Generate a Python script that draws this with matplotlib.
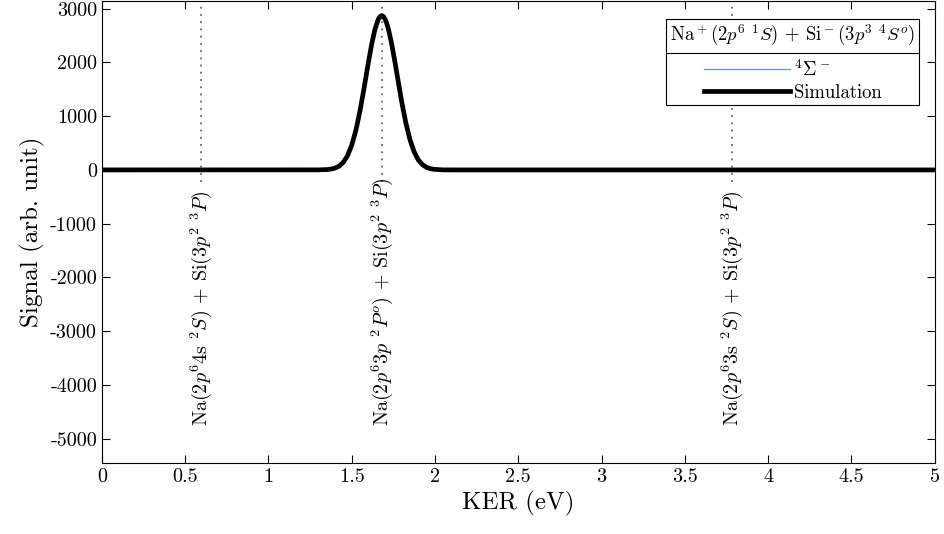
import matplotlib
matplotlib.use("Agg")
import matplotlib.pyplot as plt
from matplotlib.lines import Line2D

plt.rcParams['font.family'] = 'serif'
plt.rcParams['font.serif'] = ['cmr10', 'DejaVu Serif']
plt.rcParams['mathtext.fontset'] = 'cm'
plt.rcParams['axes.unicode_minus'] = False
plt.rcParams['axes.formatter.use_mathtext'] = True

# simulated KER spectrum
ker = [0, 1.3, 1.35, 1.375, 1.4, 1.425, 1.45, 1.475, 1.5, 1.525, 1.55, 1.575,
       1.6, 1.62, 1.64, 1.66, 1.67, 1.68, 1.69, 1.7, 1.71, 1.72, 1.74, 1.76,
       1.775, 1.8, 1.825, 1.85, 1.875, 1.9, 1.925, 1.95, 1.975, 2.0, 2.05,
       2.1, 5]
signal = [0, 1, 6, 15, 34, 72, 144, 266, 461, 737, 1103, 1538,
          1998, 2341, 2622, 2806, 2854, 2870, 2854, 2806, 2727, 2622, 2341, 1998,
          1722, 1270, 873, 559, 334, 185, 96, 46, 21, 9, 1,
          0, 0]

# asymptotic limits
limit_ker = [0.595, 1.683, 3.785]
limit_labels = [
    r'Na$(2p^6 4\mathrm{s}\ ^2S)$ + Si$(3p^2\ ^3P)$',
    r'Na$(2p^6 3p\ ^2P^o)$ + Si$(3p^2\ ^3P)$',
    r'Na$(2p^6 3\mathrm{s}\ ^2S)$ + Si$(3p^2\ ^3P)$',
]

xticks = [0, 0.5, 1, 1.5, 2, 2.5, 3, 3.5, 4, 4.5, 5]
xticklabels = ['0', '0.5', '1', '1.5', '2', '2.5', '3', '3.5', '4', '4.5', '5']
yticks = [-5000, -4000, -3000, -2000, -1000, 0, 1000, 2000, 3000]
yticklabels = ['-5000', '-4000', '-3000', '-2000', '-1000', '0', '1000', '2000', '3000']

fig = plt.figure(figsize=(9.44, 5.34), dpi=100)
ax = fig.add_axes([0.108, 0.133, 0.882, 0.865])

for xk, lab in zip(limit_ker, limit_labels):
    ax.axvline(xk, ymin=0.608, ymax=1, color='#666666', lw=1.3,
               linestyle=(0, (1, 3)), zorder=1)
    ax.text(xk, -4770, lab, rotation=90, ha='center', va='bottom',
            fontsize=14.5, zorder=2)

ax.plot(ker, signal, color='#4DA6E8', lw=1, label=r'$^4\Sigma^-$', zorder=3)
ax.plot(ker, signal, color='black', lw=3.4, label='Simulation', zorder=4)

ax.set_xlim(0, 5)
ax.set_ylim(-5450, 3140)
ax.set_xticks(xticks)
ax.set_xticklabels(xticklabels)
ax.set_yticks(yticks)
ax.set_yticklabels(yticklabels)
ax.tick_params(direction='in', top=True, right=True, length=6, width=0.8,
               labelsize=14.5)
ax.set_xlabel('KER (eV)', fontsize=18)
ax.set_ylabel('Signal (arb. unit)', fontsize=18)

leg = ax.legend(title=r'Na$^+(2p^6\ ^1S)$ + Si$^-(3p^3\ ^4S^o)$',
                loc='upper right', bbox_to_anchor=(0.981, 0.961),
                borderaxespad=0,
                fontsize=13.5, title_fontsize=13.5, frameon=True, fancybox=False,
                edgecolor='black', framealpha=1, handlelength=4.6,
                borderpad=0.2, labelspacing=0.2, handletextpad=0.2)
leg.get_frame().set_linewidth(0.8)
leg._legend_box.sep = 8

# separator under the legend title
fig.canvas.draw()
renderer = fig.canvas.get_renderer()
fb = leg.get_frame().get_window_extent(renderer)
tb = leg.get_title().get_window_extent(renderer)
ysep = tb.y0 - 5
inv = fig.transFigure.inverted()
(x0, y0) = inv.transform((fb.x0, ysep))
(x1, _) = inv.transform((fb.x1, ysep))
fig.add_artist(Line2D([x0, x1], [y0, y0], color='black', lw=0.8, zorder=10))

fig.savefig('out.png', dpi=100)
